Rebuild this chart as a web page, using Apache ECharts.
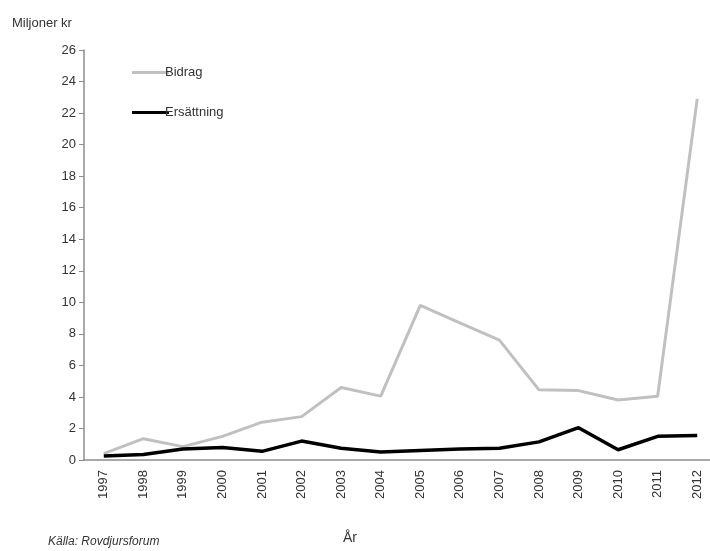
<!DOCTYPE html>
<html>
<head>
<meta charset="utf-8">
<script src="https://cdn.jsdelivr.net/npm/echarts@6/dist/echarts.min.js"></script>
<style>
  html, body { margin: 0; padding: 0; background: #fff; }
  #chart { width: 710px; height: 551px; }
</style>
</head>
<body>
<div id="chart"></div>
<script>
var years = ['1997', '1998', '1999', '2000', '2001', '2002', '2003', '2004',
             '2005', '2006', '2007', '2008', '2009', '2010', '2011', '2012'];
var bidrag = [0.4, 1.35, 0.85, 1.5, 2.4, 2.75, 4.6, 4.05, 9.8, 8.7, 7.6, 4.45, 4.4, 3.8, 4.05, 22.9];
var ersattning = [0.25, 0.35, 0.7, 0.8, 0.55, 1.2, 0.75, 0.5, 0.6, 0.7, 0.75, 1.15, 2.05, 0.65, 1.5, 1.55];

var font = 'Liberation Sans, Arial, sans-serif';
var axisGrey = '#8c8c8c';

var chart = echarts.init(document.getElementById('chart'));
chart.setOption({
    animation: false,
    textStyle: { fontFamily: font },
    title: {
        text: 'Miljoner kr',
        left: 7, top: 12,
        textStyle: { fontSize: 13, fontWeight: 'normal', color: '#333' }
    },
    legend: {
        orient: 'vertical',
        left: 127, top: 61,
        itemWidth: 37, itemHeight: 3,
        itemGap: 27,
        icon: 'rect',
        textStyle: { fontSize: 13, color: '#333', padding: [0, 0, 0, -9] },
        data: ['Bidrag', 'Ersättning']
    },
    // the original plot runs slightly past the right edge
    grid: { left: 84, width: 633, top: 50, bottom: 91, containLabel: false, outerBoundsMode: 'none' },
    xAxis: {
        type: 'category',
        data: years,
        boundaryGap: true,
        axisLine: { lineStyle: { color: axisGrey, width: 1.5 } },
        axisTick: { alignWithLabel: false, length: 5, lineStyle: { color: axisGrey } },
        axisLabel: { rotate: 90, color: '#333', fontSize: 13, margin: 10, interval: 0 }
    },
    yAxis: {
        type: 'value',
        min: 0, max: 26, interval: 2,
        splitLine: { show: false },
        axisLine: { show: true, lineStyle: { color: axisGrey, width: 1.5 } },
        axisTick: { show: true, length: 5, lineStyle: { color: axisGrey } },
        axisLabel: { color: '#333', fontSize: 13, margin: 8 }
    },
    series: [
        {
            name: 'Bidrag', type: 'line', data: bidrag,
            symbol: 'none',
            lineStyle: { color: '#c0c0c0', width: 3 },
            itemStyle: { color: '#c0c0c0' }
        },
        {
            name: 'Ersättning', type: 'line', data: ersattning,
            symbol: 'none',
            lineStyle: { color: '#000', width: 3.5 },
            itemStyle: { color: '#000' }
        }
    ],
    graphic: [
        { type: 'text', left: 48, top: 536,
          style: { text: 'Källa: Rovdjursforum', fill: '#333', font: 'italic 12px ' + font } },
        { type: 'text', left: 343, top: 531,
          style: { text: 'År', fill: '#333', font: '14px ' + font } }
    ]
});
</script>
</body>
</html>
